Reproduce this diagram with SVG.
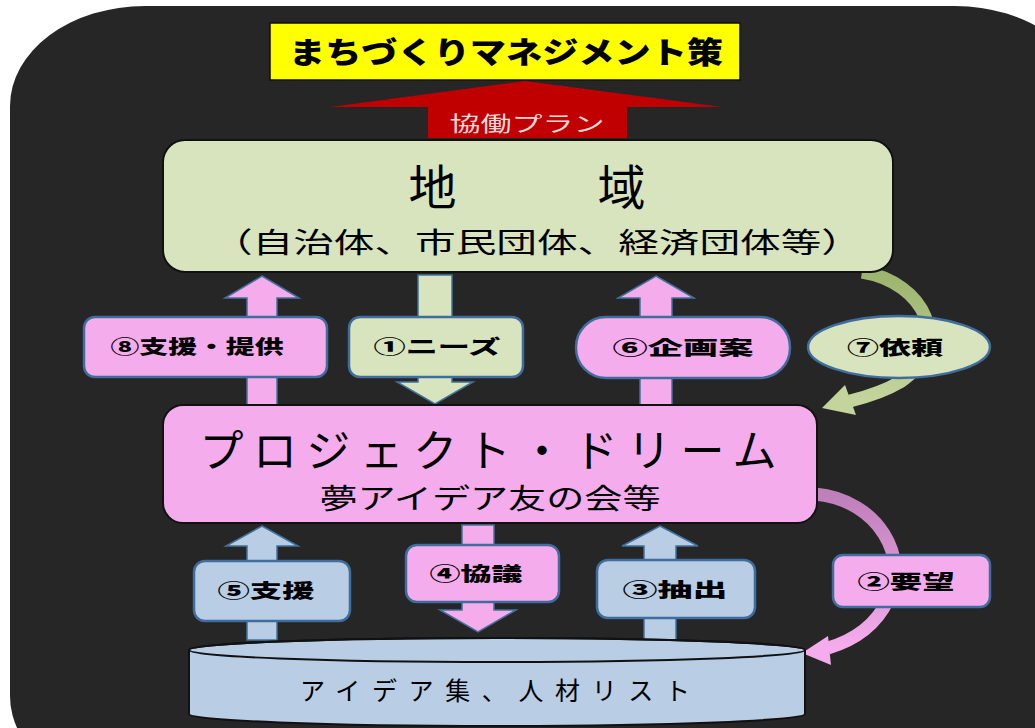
<svg xmlns="http://www.w3.org/2000/svg" width="1035" height="728" viewBox="0 0 1035 728">
<style>
text{font-family:"Noto Sans CJK JP","Noto Sans CJK SC",sans-serif;text-anchor:middle;fill:#000}
.lbl{font-size:19px;font-weight:900}
.box{stroke:#111;stroke-width:2}
.lb{stroke:#3f6e9e;stroke-width:2.5}
.arr{stroke:#41719c;stroke-width:1.5}
.pink{fill:#f5aced}
.green{fill:#d7e4bd}
.blue{fill:#b9cde5}
</style>
<defs>
  <linearGradient id="gg" x1="0" y1="0" x2="0" y2="1">
    <stop offset="0" stop-color="#9cb46e"/>
    <stop offset="1" stop-color="#c3d59c"/>
  </linearGradient>
  <linearGradient id="pg" x1="0" y1="0" x2="0" y2="1">
    <stop offset="0" stop-color="#bf7fba"/>
    <stop offset="1" stop-color="#f5aced"/>
  </linearGradient>
</defs>
<rect x="0" y="0" width="1035" height="728" fill="#fff"/>
<rect x="10" y="6" width="1080" height="790" rx="135" ry="100" fill="#262626"/>

<g id="connectors">
  <path d="M862 272 C925 282 955 345 900 382 C885 391 870 396 850 401" fill="none" stroke="url(#gg)" stroke-width="13"/>
  <polygon points="822,408 845,385 856,415" fill="#c3d59c"/>
  <path d="M815 494 C880 500 910 560 888 600 C876 625 855 640 828 648" fill="none" stroke="url(#pg)" stroke-width="13"/>
  <polygon points="802,653 828,636 831,665" fill="#f5aced"/>
  <polygon class="arr pink" points="262,276 299,298 277,298 277,407 247,407 247,298 225,298"/>
  <polygon class="arr green" points="418,275 452,275 452,382 473,382 435,404 397,382 418,382"/>
  <polygon class="arr pink" points="656,276 694,298 672,298 672,407 640,407 640,298 618,298"/>
  <polygon class="arr blue" points="262,526 298,546 277,546 277,640 247,640 247,546 226,546"/>
  <polygon class="arr pink" points="462,525 494,525 494,610 516,610 478,632 440,610 462,610"/>
  <polygon class="arr blue" points="660,526 698,546 676,546 676,640 644,640 644,546 622,546"/>
</g>

<g id="title">
  <rect x="270" y="23" width="470" height="57" fill="#ffff00" stroke="#111" stroke-width="1.5"/>
  <text x="506" y="63" textLength="434" lengthAdjust="spacingAndGlyphs" style="font-size:30px;font-weight:900">まちづくりマネジメント策</text>
</g>
<g id="plan">
  <polygon points="525,81 722,107 627,107 627,138 428,138 428,107 330,107" fill="#c00000"/>
  <text x="527" y="131" textLength="155" lengthAdjust="spacingAndGlyphs" style="font-size:21px;fill:#f4d9d9">協働プラン</text>
</g>
<g id="region">
  <rect class="box green" x="163" y="140" width="730" height="132" rx="22"/>
  <text x="527" y="205" textLength="237" style="font-size:48px">地　域</text>
  <text x="537" y="253" textLength="650" lengthAdjust="spacingAndGlyphs" style="font-size:28px">（自治体、市民団体、経済団体等）</text>
</g>
<g id="project">
  <rect class="box pink" x="163" y="405" width="654" height="118" rx="20"/>
  <text x="488" y="467" textLength="577" style="font-size:44px">プロジェクト・ドリーム</text>
  <text x="490" y="509" textLength="341" lengthAdjust="spacingAndGlyphs" style="font-size:28px">夢アイデア友の会等</text>
</g>
<g id="db">
  <path class="blue" d="M189 650 A308 12 0 0 1 805 650 L805 714 A308 12 0 0 1 189 714 Z" stroke="#111" stroke-width="2"/>
  <ellipse cx="497" cy="650" rx="308" ry="12" fill="none" stroke="#111" stroke-width="2"/>
  <text x="495" y="700" textLength="390" style="font-size:25px">アイデア集、人材リスト</text>
</g>
<g id="l8"><rect class="lb pink" x="84" y="317" width="243" height="60" rx="11"/><text class="lbl" x="197" y="354" textLength="173" lengthAdjust="spacingAndGlyphs">⑧支援・提供</text></g>
<g id="l1"><rect class="lb green" x="349" y="317" width="174" height="60" rx="11"/><text class="lbl" x="437" y="354" textLength="127" lengthAdjust="spacingAndGlyphs">①ニーズ</text></g>
<g id="l6"><rect class="lb pink" x="576" y="317" width="214" height="61" rx="30"/><text class="lbl" x="683" y="355" textLength="141" lengthAdjust="spacingAndGlyphs">⑥企画案</text></g>
<g id="l7"><ellipse class="lb green" cx="899" cy="347" rx="91" ry="31"/><text class="lbl" x="895" y="355" textLength="96" lengthAdjust="spacingAndGlyphs">⑦依頼</text></g>
<g id="l5"><rect class="lb blue" x="194" y="561" width="156" height="60" rx="11"/><text class="lbl" x="266" y="598" textLength="97" lengthAdjust="spacingAndGlyphs">⑤支援</text></g>
<g id="l4"><rect class="lb pink" x="406" y="545" width="153" height="57" rx="11"/><text class="lbl" x="476" y="581" textLength="93" lengthAdjust="spacingAndGlyphs">④協議</text></g>
<g id="l3"><rect class="lb blue" x="597" y="560" width="158" height="58" rx="11"/><text class="lbl" x="675" y="597" textLength="105" lengthAdjust="spacingAndGlyphs">③抽出</text></g>
<g id="l2"><rect class="lb pink" x="833" y="555" width="157" height="52" rx="10"/><text class="lbl" x="906" y="589" textLength="97" lengthAdjust="spacingAndGlyphs">②要望</text></g>
</svg>
